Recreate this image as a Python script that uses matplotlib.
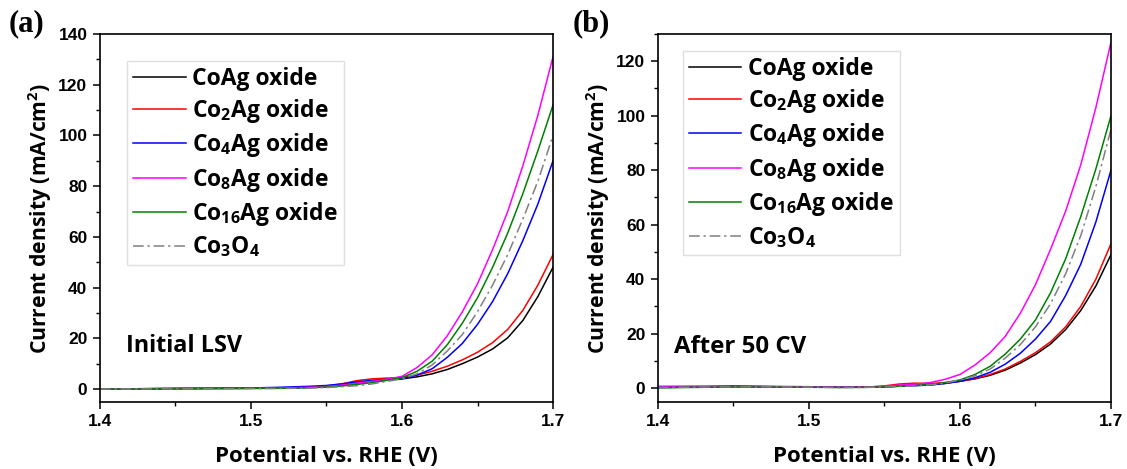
import numpy as np
import matplotlib
matplotlib.use('Agg')
import matplotlib.pyplot as plt
from matplotlib.ticker import MultipleLocator

plt.rcParams['font.family'] = ['Open Sans', 'DejaVu Sans']
plt.rcParams['font.weight'] = 'bold'
plt.rcParams['mathtext.fontset'] = 'custom'
plt.rcParams['mathtext.bf'] = 'Open Sans:bold'
plt.rcParams['mathtext.rm'] = 'Open Sans:bold'
plt.rcParams['mathtext.default'] = 'bf'

# potential (V vs RHE)
E = [1.40, 1.45, 1.50, 1.52, 1.54, 1.55, 1.56, 1.57, 1.58, 1.59,
     1.60, 1.61, 1.62, 1.63, 1.64, 1.65, 1.66, 1.67, 1.68, 1.69, 1.70]

labels = ['CoAg oxide', 'Co$_2$Ag oxide', 'Co$_4$Ag oxide',
          'Co$_8$Ag oxide', 'Co$_{16}$Ag oxide', 'Co$_3$O$_4$']
colors = ['black', '#ff0000', '#0000ff', '#ff00ff', '#008000', '#808080']

# (a) initial LSV, current density mA/cm2
a_coag = [0, 0.2, 0.3, 0.4, 0.7, 1.0, 1.5, 2.4, 3.2, 3.6,
          4.0, 4.8, 6.0, 7.7, 10.0, 12.6, 15.8, 20.2, 27.0, 36.5, 48.0]
a_co2ag = [0, 0.2, 0.3, 0.4, 0.8, 1.2, 2.0, 3.3, 4.0, 4.3,
           4.5, 5.5, 7.0, 9.0, 11.5, 14.5, 18.3, 23.5, 31.0, 41.0, 53.0]
a_co4ag = [0, 0.2, 0.4, 0.7, 1.1, 1.4, 2.0, 2.8, 3.4, 3.8,
           4.0, 5.5, 8.0, 12.5, 18.0, 25.5, 34.5, 45.5, 58.5, 73.0, 90.0]
a_co8ag = [0, 0.2, 0.3, 0.4, 0.7, 1.0, 1.5, 2.3, 3.0, 3.8,
           5.0, 8.5, 13.5, 21.0, 30.5, 41.5, 55.0, 70.0, 88.0, 108.0, 131.0]
a_co16ag = [0, 0.1, 0.2, 0.3, 0.5, 0.8, 1.2, 1.8, 2.5, 3.4,
            4.5, 7.0, 11.0, 17.5, 26.0, 36.0, 48.0, 61.5, 77.0, 94.0, 112.0]
a_co3o4 = [0, 0.1, 0.2, 0.2, 0.4, 0.6, 0.9, 1.3, 2.0, 3.0,
           4.0, 6.0, 9.5, 15.0, 21.5, 30.5, 41.0, 53.0, 67.0, 82.0, 100.0]

# (b) after 50 CV
b_coag = [0.2, 0.6, 0.4, 0.3, 0.3, 0.4, 0.8, 1.0, 1.2, 1.7,
          2.5, 3.4, 4.7, 6.6, 9.2, 12.3, 16.2, 21.5, 28.5, 37.5, 49.0]
b_co2ag = [0.3, 0.6, 0.4, 0.3, 0.4, 0.8, 1.5, 1.8, 1.7, 2.0,
           2.5, 3.5, 5.0, 7.0, 9.8, 13.0, 17.0, 22.5, 30.0, 40.0, 53.0]
b_co4ag = [0.6, 0.7, 0.5, 0.3, 0.3, 0.4, 0.7, 0.9, 1.1, 1.7,
           2.5, 3.8, 5.8, 8.8, 12.8, 18.0, 24.5, 34.0, 45.5, 61.0, 80.0]
b_co8ag = [0.4, 0.5, 0.4, 0.3, 0.4, 0.7, 1.1, 1.4, 2.0, 3.2,
           5.0, 8.5, 13.0, 19.0, 27.5, 38.0, 51.0, 65.0, 82.0, 103.0, 127.0]
b_co16ag = [0.1, 0.4, 0.3, 0.2, 0.3, 0.4, 0.7, 0.9, 1.3, 2.0,
            3.0, 5.0, 8.0, 12.5, 18.0, 25.0, 35.0, 47.5, 63.0, 80.5, 100.0]
b_co3o4 = [0.2, 0.5, 0.4, 0.2, 0.3, 0.4, 0.6, 0.8, 1.2, 1.8,
           3.0, 4.5, 7.0, 11.0, 16.0, 22.5, 31.0, 42.0, 56.0, 74.0, 95.0]

panels = [
    ([a_coag, a_co2ag, a_co4ag, a_co8ag, a_co16ag, a_co3o4], 'Initial LSV', '(a)', 140),
    ([b_coag, b_co2ag, b_co4ag, b_co8ag, b_co16ag, b_co3o4], 'After 50 CV', '(b)', 130),
]

fig = plt.figure(figsize=(11.27, 4.69), dpi=100)
lefts = [0.0887, 0.5838]
leg_pos = [(0.060, 0.927), (0.055, 0.954)]
txt_pos = [(0.058, 0.152), (0.035, 0.148)]

for i, (series, note, tag, ytop) in enumerate(panels):
    ax = fig.add_axes([lefts[i], 0.1435, 0.402, 0.784])
    for j, y in enumerate(series):
        ls = (0, (7, 2.5, 1.5, 2.5)) if j == 5 else '-'
        ax.plot(E, y, color=colors[j], lw=1.1, ls=ls, label=labels[j])
    ax.set_xlim(1.4, 1.7)
    ax.set_ylim(-5, ytop)
    ax.xaxis.set_major_locator(MultipleLocator(0.1))
    ax.xaxis.set_minor_locator(MultipleLocator(0.05))
    ax.yaxis.set_major_locator(MultipleLocator(20))
    ax.yaxis.set_minor_locator(MultipleLocator(10))
    ax.tick_params(which='major', direction='out', length=5, width=1.1, labelsize=12.5, pad=4)
    ax.tick_params(which='minor', direction='out', length=3, width=1.0)
    for lab in ax.get_xticklabels() + ax.get_yticklabels():
        lab.set_fontweight('bold')
        lab.set_family(['Liberation Sans', 'DejaVu Sans'])
    for s in ax.spines.values():
        s.set_linewidth(1.2)
    ax.set_xlabel('Potential vs. RHE (V)', fontsize=16, fontweight='bold', labelpad=12)
    ax.set_ylabel('Current density (mA/cm$^2$)', fontsize=15.2, fontweight='bold', labelpad=3)
    leg = ax.legend(loc='upper left', bbox_to_anchor=leg_pos[i], fontsize=16.5,
                    frameon=True, fancybox=False, edgecolor='#d8d8d8',
                    handlelength=2.3, handletextpad=0.3, labelspacing=0.28,
                    borderpad=0.25, borderaxespad=0)
    leg.get_frame().set_linewidth(1.0)
    ax.text(txt_pos[i][0], txt_pos[i][1], note, transform=ax.transAxes,
            fontsize=16.8 if i == 0 else 17.3, fontweight='bold', va='center', ha='left')
    fig.text(lefts[i] - (0.081 if i == 0 else 0.076), 0.95, tag, fontsize=22,
             fontweight='bold', family=['Liberation Serif', 'DejaVu Serif'],
             va='center', ha='left')

fig.savefig('out.png', dpi=100)
